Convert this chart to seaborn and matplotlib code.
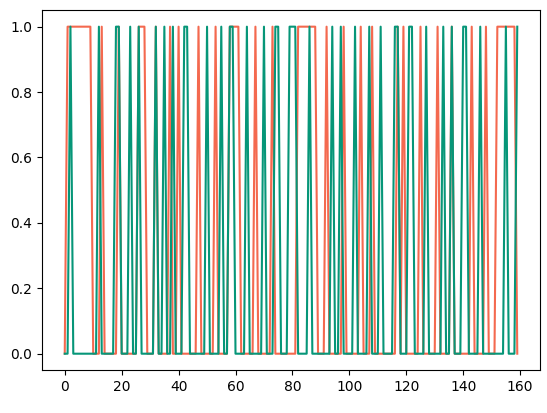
import matplotlib
matplotlib.use("Agg")
import matplotlib.pyplot as plt
import numpy as np
import seaborn as sns

n_steps = 160
# time steps where each series is 1
red_on = [1, 2, 3, 4, 5, 6, 7, 8, 9, 13, 19, 26, 27, 28, 32, 37, 40, 47, 53, 58, 59, 60, 61,
          67, 73, 82, 83, 84, 85, 86, 87, 88, 92, 98, 104, 108, 117, 119, 125, 131, 136,
          143, 148, 152, 153, 154, 155, 156, 157, 158]
green_on = [2, 12, 18, 19, 23, 26, 32, 35, 38, 42, 43, 50, 55, 58, 59, 64, 70, 74, 75, 79, 80,
            81, 86, 94, 97, 102, 107, 111, 116, 117, 121, 122, 127, 133, 136, 140, 141, 146,
            155, 159]

steps = np.arange(n_steps)
red = np.zeros(n_steps)
red[red_on] = 1
green = np.zeros(n_steps)
green[green_on] = 1

fig, ax = plt.subplots(figsize=(5.47, 4.13), dpi=100)
sns.lineplot(x=steps, y=red, color="#f4694f", ax=ax, linewidth=1.5)
sns.lineplot(x=steps, y=green, color="#069678", ax=ax, linewidth=1.5)
ax.set_xticks([0, 20, 40, 60, 80, 100, 120, 140, 160])
plt.subplots_adjust(left=0.077, right=0.987, bottom=0.104, top=0.975)
fig.savefig("out.png", dpi=100)
